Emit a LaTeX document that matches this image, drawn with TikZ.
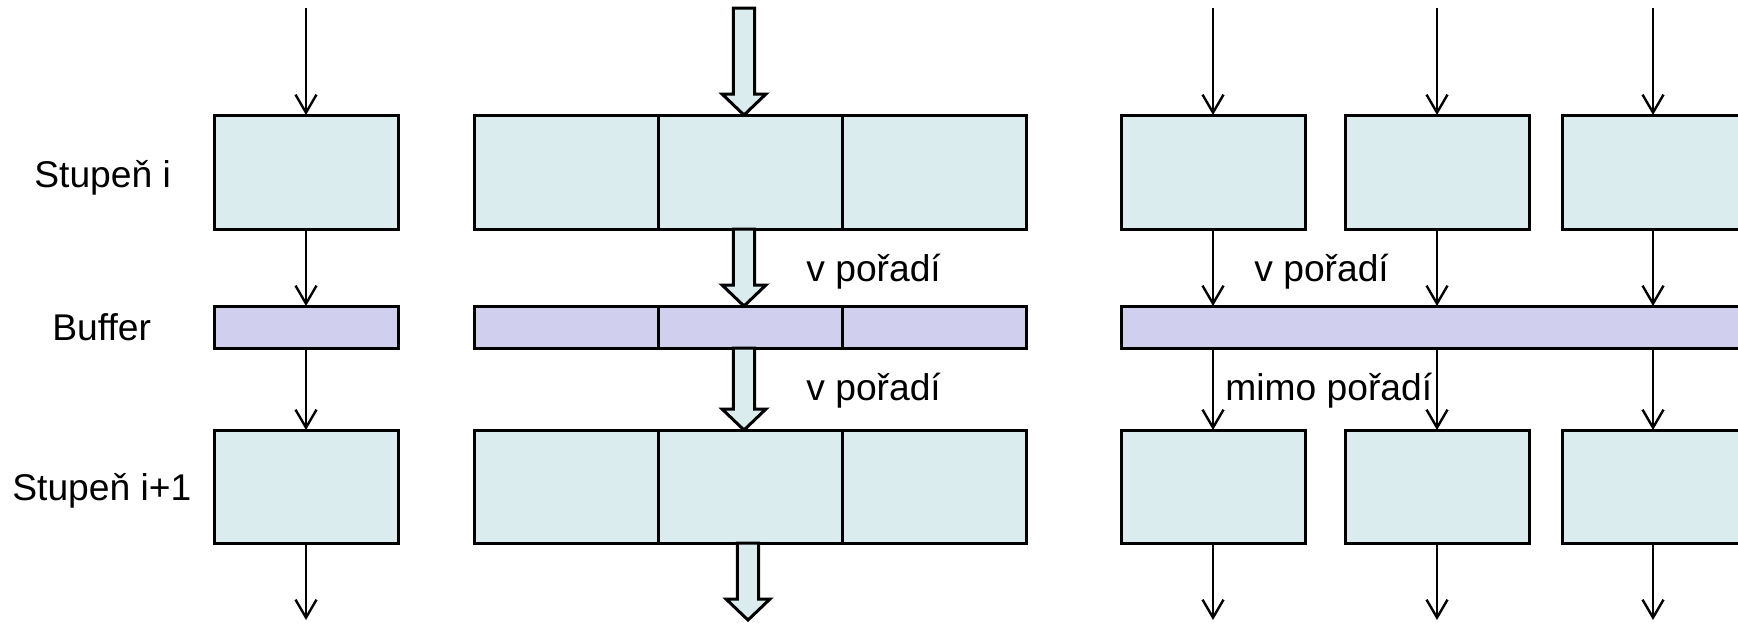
\documentclass[tikz,border=0pt]{standalone}
\usepackage{fontspec}
\setmainfont{Liberation Sans}
\usetikzlibrary{arrows.meta,calc}
\definecolor{boxfill}{RGB}{218,236,238}
\definecolor{buffill}{RGB}{208,208,238}
\newcommand\blkarrow[2]{\draw[blockarr] let \p1=(#1), \p2=(#2) in (\x1-5.3pt,\y1) -- (\x1+5.3pt,\y1) -- (\x1+5.3pt,\y2+10.5pt) -- (\x1+11pt,\y2+10.5pt) -- (\x1,\y2) -- (\x1-11pt,\y2+10.5pt) -- (\x1-5.3pt,\y2+10.5pt) -- cycle;}
\begin{document}
\begin{tikzpicture}[x=0.5pt,y=-0.5pt,font=\fontsize{18.6}{22}\selectfont,
  stage/.style={draw,line width=1.5pt,fill=boxfill,minimum width=92pt,minimum height=57pt,inner sep=0pt,outer sep=0pt},
  buf/.style={stage,fill=buffill,minimum height=21pt},
  arr/.style={line width=1.2pt,-{Straight Barb[length=9pt,width=10.5pt]}},
  blockarr/.style={draw,line width=1.5pt,fill=boxfill,line join=miter},
  lbl/.style={anchor=base west,inner sep=0pt}]
\useasboundingbox (0,0) rectangle (1738,623);
\clip (0,0) rectangle (1738,623);
% left column
\node[stage] (li) at (306,172) {};
\node[buf] (lb) at (306,327) {};
\node[stage,minimum height=56.5pt] (lo) at (306,486.5) {};
\coordinate (ltop) at (306,8);
\coordinate (lbot) at (306,620);
\draw[arr] (ltop) -- (li.north);
\draw[arr] (li.south) -- (lb.north);
\draw[arr] (lb.south) -- (lo.north);
\draw[arr] (lo.south) -- (lbot);
\node[lbl] (t1) at (34,187) {Stupeň i};
\node[lbl] (t2) at (52,340) {Buffer};
\node[lbl] (t3) at (12,500) {Stupeň i+1};
% middle column
\foreach \i/\x in {1/566,2/750,3/934}{
  \node[stage] (mi\i) at (\x,172) {};
  \node[buf] (mb\i) at (\x,327) {};
  \node[stage,minimum height=56.5pt] (mo\i) at (\x,486.5) {};
}
\coordinate (mtop) at (744,8);
\coordinate (mbot) at (748,620);
\blkarrow{mtop}{mtop |- mi2.north}
\blkarrow{mtop |- mi2.south}{mtop |- mb2.north}
\blkarrow{mtop |- mb2.south}{mtop |- mo2.north}
\blkarrow{mbot |- mo2.south}{mbot}
\node[lbl] (t4) at (806,281) {v pořadí};
\node[lbl] (t5) at (806,400) {v pořadí};
% right column
\node[buf,minimum width=319.5pt] (rb) at (1440.5,327) {};
\foreach \i/\x in {1/1213,2/1437,3/1654}{
  \node[stage] (r\i) at (\x,172) {};
  \node[stage,minimum height=56.5pt] (ro\i) at (\x,486.5) {};
}
\foreach \i/\x in {1/1213,2/1437,3/1653}{
  \coordinate (rt\i) at (\x,8);
  \coordinate (rbot\i) at (\x,620);
  \draw[arr] (rt\i) -- (rt\i |- r\i.north);
  \draw[arr] (rt\i |- r\i.south) -- (rt\i |- rb.north);
  \draw[arr] (rt\i |- rb.south) -- (rt\i |- ro\i.north);
  \draw[arr] (rt\i |- ro\i.south) -- (rbot\i);
}
\node[lbl] (t6) at (1254,281) {v pořadí};
\node[lbl] (t7) at (1225,400) {mimo pořadí};
\end{tikzpicture}
\end{document}
